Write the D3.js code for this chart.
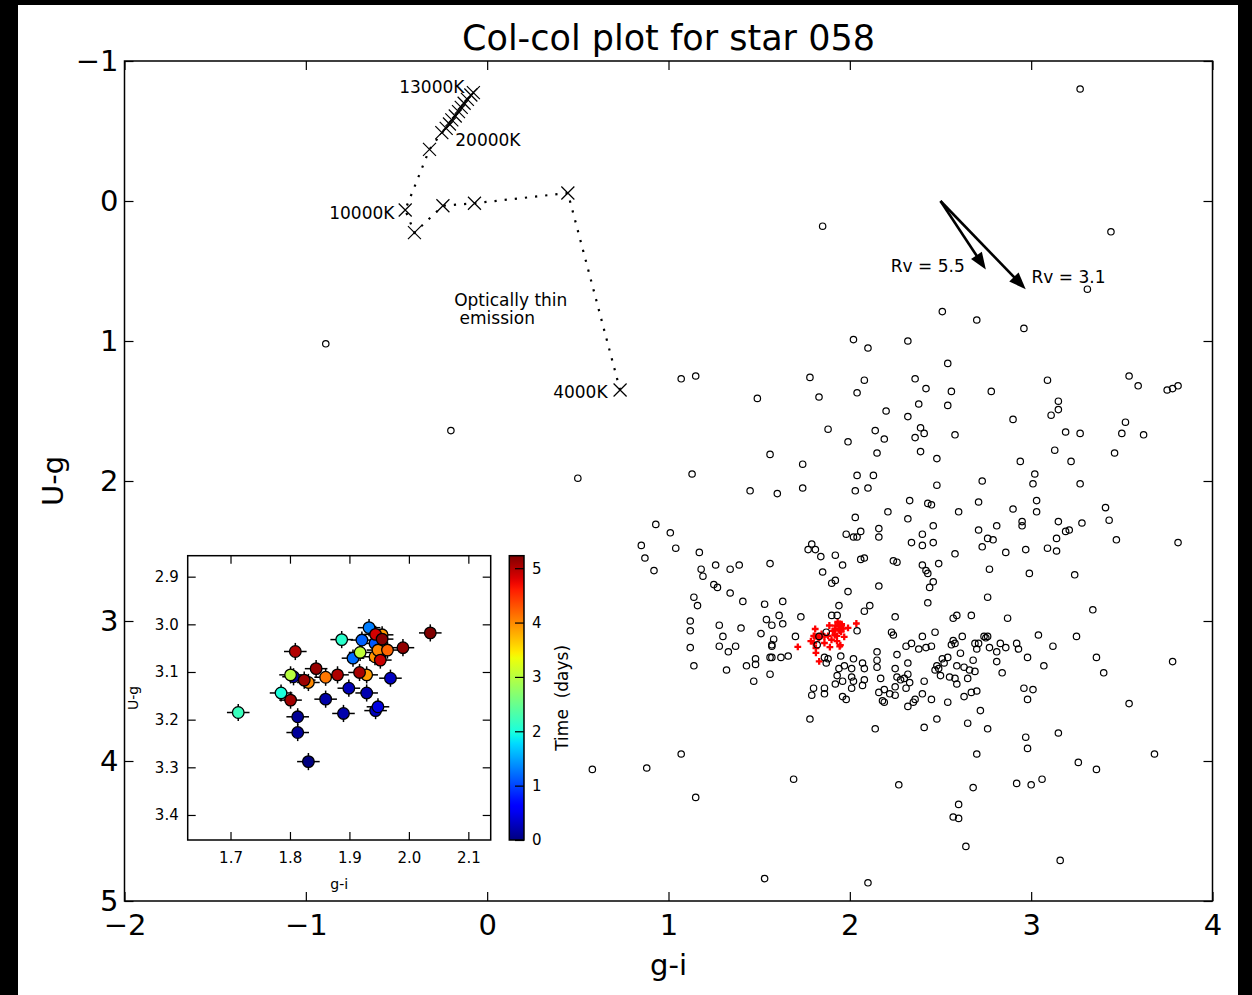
<!DOCTYPE html>
<html>
<head>
<meta charset="utf-8">
<script src="https://cdn.jsdelivr.net/npm/d3@7"></script>
<style>
  html, body { margin: 0; padding: 0; background: #000; }
  svg { display: block; }
</style>
</head>
<body>
<svg id="chart" width="1252" height="995"></svg>
<script>
// ---------- data ----------
// field stars: [g-i, U-g]
const fieldStars = [
  [3.27,-0.80],[1.85,0.18],[3.44,0.22],[3.31,0.63],[2.51,0.79],[-0.89,1.02],[-0.20,1.64],[0.50,1.98],[0.58,4.06],[2.70,0.85],[2.96,0.91],
  [2.02,0.99],[2.10,1.05],[2.32,1.00],[1.07,1.27],[1.15,1.25],[1.78,1.26],[2.08,1.28],[1.49,1.41],[1.83,1.40],[2.04,1.37],[2.20,1.50],[2.32,1.54],
  [1.88,1.63],[2.14,1.64],[2.19,1.70],[1.99,1.72],[2.15,1.80],[1.56,1.81],[1.74,1.88],[1.13,1.95],[2.04,1.96],[2.13,1.96],[1.45,2.07],[1.60,2.09],
  [1.74,2.05],[2.03,2.07],[2.10,2.05],[2.33,2.14],[2.21,2.22],[2.03,2.26],[2.32,2.27],[0.93,2.31],[1.01,2.37],[1.98,2.38],[2.02,2.40],[2.04,2.40],
  [2.06,2.36],[2.16,2.34],[2.16,2.40],[0.85,2.46],[1.04,2.48],[1.17,2.51],[0.87,2.55],[1.79,2.45],[1.77,2.49],[1.81,2.49],[1.84,2.54],[1.92,2.53],
  [2.34,2.44],[0.92,2.64],[1.18,2.63],[1.19,2.68],[1.26,2.60],[1.34,2.63],[1.39,2.60],[1.56,2.59],[1.96,2.60],[2.06,2.56],[2.08,2.55],[2.24,2.57],
  [2.26,2.58],[1.85,2.65],
  [2.54,1.16],[2.36,1.27],[2.42,1.34],[2.56,1.36],[2.78,1.36],[3.09,1.28],[3.54,1.25],[3.59,1.32],[3.75,1.35],[3.78,1.34],[3.81,1.32],[2.38,1.45],
  [2.54,1.46],[2.90,1.56],[3.15,1.43],[3.15,1.49],[3.11,1.53],[2.39,1.62],[2.41,1.66],[2.36,1.69],[2.58,1.67],[3.19,1.65],[3.27,1.66],[3.52,1.58],
  [3.50,1.66],[3.62,1.67],[2.39,1.79],[2.48,1.84],[2.94,1.86],[3.13,1.78],[3.22,1.86],[3.46,1.80],[3.02,1.95],[3.01,2.02],[3.27,2.02],[2.48,2.03],
  [2.73,2.00],[2.43,2.16],[2.45,2.17],[2.60,2.22],[2.71,2.15],[2.90,2.20],[3.03,2.14],[3.03,2.22],[3.41,2.19],[3.43,2.28],[2.46,2.32],[2.40,2.38],
  [2.40,2.46],[2.46,2.44],[2.58,2.52],[2.49,2.59],[2.71,2.35],[2.81,2.32],[2.76,2.41],[2.79,2.42],[2.73,2.47],[2.86,2.51],[2.95,2.29],[2.95,2.32],
  [2.97,2.49],[3.15,2.29],[3.14,2.41],[3.19,2.36],[3.21,2.35],[3.28,2.30],[3.09,2.48],[3.14,2.50],[3.47,2.42],[3.81,2.44],[2.77,2.63],[2.99,2.66],
  [3.24,2.67],[2.40,2.60],[2.42,2.64],[2.43,2.66],
  [1.25,2.74],[1.27,2.76],[1.34,2.80],[1.14,2.83],[1.16,2.89],[1.41,2.86],[1.53,2.88],[1.63,2.86],[1.90,2.73],[1.92,2.71],[1.99,2.79],[2.16,2.75],
  [1.94,2.89],[2.11,2.89],[2.08,2.93],[2.25,2.97],[1.73,2.97],[1.61,2.96],[1.54,2.99],[1.57,3.03],[1.63,3.02],[1.90,2.96],[1.93,2.96],[1.12,3.00],
  [1.12,3.07],[1.28,3.03],[1.40,3.05],[1.30,3.11],[1.51,3.09],[1.58,3.13],[1.57,3.17],[1.57,3.18],[1.70,3.11],[2.04,3.07],[2.23,3.08],[2.24,3.10],
  [1.83,3.11],[1.87,3.08],[1.82,3.17],[1.12,3.19],[1.28,3.18],[1.33,3.22],[1.37,3.18],[1.48,3.27],[1.48,3.31],[1.43,3.32],[1.56,3.26],[1.57,3.26],
  [1.62,3.26],[1.66,3.25],[1.14,3.32],[1.32,3.35],[1.56,3.38],[1.47,3.43],[1.86,3.26],[1.88,3.27],[1.87,3.30],[1.95,3.25],[2.02,3.27],[2.07,3.30],
  [2.15,3.22],[2.15,3.28],[2.26,3.24],[2.15,3.33],[2.25,3.34],[1.94,3.34],[1.97,3.32],[2.01,3.34],[2.08,3.34],[1.93,3.39],[2.01,3.40],[2.08,3.42],
  [2.17,3.41],[1.92,3.45],[1.96,3.43],[2.02,3.43],[2.07,3.46],[2.01,3.48],[2.26,3.40],[2.25,3.47],[2.19,3.49],[2.22,3.52],[2.16,3.51],[2.25,3.53],
  [1.80,3.48],[1.86,3.48],[1.79,3.53],[1.86,3.52],[1.96,3.54],[1.98,3.56],[2.18,3.57],[2.19,3.58],[1.78,3.70],[2.14,3.77],[1.07,3.95],[0.88,4.05],
  [1.69,4.13],[2.27,4.17],[1.15,4.26],[1.53,4.84],[2.10,4.87],
  [2.46,2.72],[2.44,2.76],[2.43,2.87],[2.76,2.83],[3.34,2.92],[2.57,2.98],[2.59,2.96],[2.67,2.96],[2.87,2.98],[2.47,3.08],[2.40,3.11],[2.34,3.16],
  [2.31,3.18],[2.38,3.20],[2.42,3.19],[2.45,3.18],[2.62,3.11],[2.57,3.14],[2.58,3.16],[2.56,3.17],[2.74,3.11],[2.75,3.12],[2.76,3.11],[2.69,3.16],
  [2.71,3.16],[2.70,3.20],[2.83,3.16],[2.77,3.19],[2.86,3.19],[2.81,3.22],[2.92,3.16],[2.93,3.20],[3.04,3.10],[3.12,3.18],[3.25,3.11],[2.98,3.26],
  [3.07,3.32],[3.36,3.26],[3.40,3.37],[3.78,3.29],[2.32,3.30],[2.61,3.23],[2.54,3.26],[2.68,3.28],[2.81,3.29],[2.84,3.37],[2.51,3.27],[2.52,3.30],
  [2.48,3.32],[2.47,3.35],[2.49,3.34],[2.59,3.32],[2.63,3.33],[2.66,3.35],[2.69,3.36],[2.50,3.39],[2.55,3.40],[2.58,3.41],[2.65,3.41],[2.59,3.45],
  [2.32,3.38],[2.28,3.42],[2.30,3.41],[2.33,3.44],[2.31,3.48],[2.41,3.43],[2.40,3.52],[2.45,3.56],[2.36,3.56],[2.35,3.58],[2.32,3.61],[2.54,3.58],
  [2.63,3.54],[2.67,3.51],[2.70,3.50],[2.72,3.64],[2.48,3.70],[2.41,3.76],[2.65,3.73],[2.76,3.77],[2.96,3.48],[3.01,3.49],[2.98,3.56],[3.15,3.80],
  [2.97,3.83],[2.98,3.91],[2.70,3.95],[3.26,4.01],[3.36,4.06],[3.54,3.59],[3.68,3.95],[2.92,4.16],[3.00,4.17],[3.06,4.13],[2.68,4.19],[2.60,4.31],
  [2.57,4.40],[2.60,4.41],[2.64,4.61],[3.16,4.71]
];

// star 058 epochs (chronological)
const starGi = [1.831,1.813,1.813,1.806,1.860,1.890,1.929,1.899,1.944,1.969,1.948,
                1.943,1.921,1.906,1.933,1.785,1.887,1.713,1.801,1.918,
                1.929,1.955,1.943,1.831,1.948,1.860,1.964,
                1.944,1.952,1.809,1.880,1.917,1.801,1.824,1.844,1.990,1.955,2.036];
const starUg = [3.288,3.194,3.227,3.110,3.157,3.187,3.144,3.134,3.181,3.113,3.173,
                3.040,3.033,3.071,3.007,3.144,3.032,3.185,3.106,3.059,
                3.106,3.022,3.068,3.122,3.054,3.111,3.054,
                3.021,3.075,3.057,3.106,3.101,3.159,3.117,3.093,3.049,3.031,3.018];
const starTime = [0.00,0.10,0.12,0.15,0.18,0.20,0.22,0.26,0.28,0.30,0.45,
                  1.10,1.15,1.20,1.30,2.00,2.10,2.20,3.00,3.05,
                  3.90,3.92,3.95,4.00,4.02,4.10,4.20,
                  4.85,4.90,5.00,5.02,5.05,5.08,5.10,5.12,5.15,5.20,5.23];
const starGiErr = [0.019,0.019,0.019,0.019,0.019,0.019,0.019,0.019,0.019,0.019,0.019,
                   0.019,0.019,0.019,0.019,0.019,0.019,0.019,0.019,0.019,
                   0.019,0.019,0.019,0.019,0.019,0.019,0.019,
                   0.019,0.019,0.019,0.019,0.019,0.019,0.019,0.019,0.019,0.019,0.019];
const starUgErr = [0.018,0.018,0.018,0.018,0.018,0.018,0.018,0.018,0.018,0.018,0.018,
                   0.018,0.018,0.018,0.018,0.018,0.018,0.018,0.018,0.018,
                   0.018,0.018,0.018,0.018,0.018,0.018,0.018,
                   0.018,0.018,0.018,0.018,0.018,0.018,0.018,0.018,0.018,0.018,0.018];

// optically thin emission model track
const trackGi = [0.733,0.445,-0.070,-0.244,-0.401,-0.452,-0.318,-0.250,-0.226,-0.208,-0.195,-0.176,-0.158,-0.143,-0.127,-0.109,-0.090,-0.076];
const trackUg = [1.350,-0.057,0.016,0.034,0.226,0.064,-0.369,-0.488,-0.519,-0.550,-0.579,-0.607,-0.638,-0.669,-0.698,-0.726,-0.757,-0.774];
const tempLabels = ["13000K","20000K","10000K","4000K"];
const tempLabelGi = [-0.485,-0.176,-0.871,0.364];
const tempLabelUg = [-0.812,-0.436,0.088,1.362];
const noteLines = ["Optically thin"," emission"];
const noteGi = -0.182;
const noteUg = [0.707,0.838];

// reddening vectors
const rvLabels = ["Rv = 5.5","Rv = 3.1"];
const rvStart = [2.50,0.00];
const rvEndGi = [2.75,2.97];
const rvEndUg = [0.49,0.63];
const rvLabelGi = [2.226,3.002];
const rvLabelUg = [0.464,0.541];

// axes
const giTicks = [-2,-1,0,1,2,3,4];
const ugTicks = [-1,0,1,2,3,4,5];
const insetGiTicks = [1.7,1.8,1.9,2.0,2.1];
const insetUgTicks = [2.9,3.0,3.1,3.2,3.3,3.4];
const timeTicks = [0,1,2,3,4,5];
const timeMax = 5.23;

// ---------- drawing ----------
const FONT = '"DejaVu Sans", "Liberation Sans", sans-serif';
const svg = d3.select("#chart");
svg.append("rect").attr("x",18).attr("y",5).attr("width",1220).attr("height",990).attr("fill","#fff");

// jet colormap built from piecewise-linear channel scales
const jetR = d3.scaleLinear().domain([0,0.35,0.66,0.89,1]).range([0,0,1,1,0.5]).clamp(true);
const jetG = d3.scaleLinear().domain([0,0.125,0.375,0.64,0.91,1]).range([0,0,1,1,0,0]).clamp(true);
const jetB = d3.scaleLinear().domain([0,0.11,0.34,0.65,1]).range([0.5,1,1,0,0]).clamp(true);
const jet = t => d3.rgb(255*jetR(t),255*jetG(t),255*jetB(t)).formatHex();
const tNorm = d3.scaleLinear().domain([0,timeMax]).range([0,1]);

const x = d3.scaleLinear().domain([-2,4]).range([124.5,1212.5]);
const y = d3.scaleLinear().domain([-1,5]).range([61,901]);

function styleAxis(g, size){
  g.attr("font-family",FONT).attr("font-size",size);
  g.select(".domain").remove();
  g.selectAll(".tick line").attr("stroke","#000").attr("stroke-width",1.2);
  g.selectAll(".tick text").attr("fill","#000");
}

const fmtInt = d3.format("d");
styleAxis(svg.append("g").attr("transform",`translate(0,${y.range()[1]})`)
  .call(d3.axisBottom(x).tickValues(giTicks).tickFormat(fmtInt).tickSizeInner(-9).tickSizeOuter(0).tickPadding(13)), 29);
styleAxis(svg.append("g").attr("transform",`translate(0,${y.range()[0]})`)
  .call(d3.axisTop(x).tickValues(giTicks).tickFormat(()=>"").tickSizeInner(-9).tickSizeOuter(0)), 29);
styleAxis(svg.append("g").attr("transform",`translate(${x.range()[0]},0)`)
  .call(d3.axisLeft(y).tickValues(ugTicks).tickFormat(fmtInt).tickSizeInner(-9).tickSizeOuter(0).tickPadding(6)), 29);
styleAxis(svg.append("g").attr("transform",`translate(${x.range()[1]},0)`)
  .call(d3.axisRight(y).tickValues(ugTicks).tickFormat(()=>"").tickSizeInner(-9).tickSizeOuter(0)), 29);

// title and axis labels
svg.append("text").attr("x",(x.range()[0]+x.range()[1])/2).attr("y",50)
  .attr("text-anchor","middle").attr("font-family",FONT).attr("font-size",35).text("Col-col plot for star 058");
svg.append("text").attr("x",(x.range()[0]+x.range()[1])/2).attr("y",975)
  .attr("text-anchor","middle").attr("font-family",FONT).attr("font-size",29).text("g-i");
svg.append("text").attr("transform",`translate(63,${(y.range()[0]+y.range()[1])/2}) rotate(-90)`)
  .attr("text-anchor","middle").attr("font-family",FONT).attr("font-size",29).text("U-g");

// star 058 epochs in the main panel
const plus = "M-3.4,0H3.4M0,-3.4V3.4";
svg.append("g").selectAll("path").data(starGi).join("path")
  .attr("transform",(d,i)=>`translate(${x(d)},${y(starUg[i])})`)
  .attr("d",plus).attr("stroke","#ff0000").attr("stroke-width",2.3).attr("fill","none");

// field stars
svg.append("g").selectAll("circle").data(fieldStars).join("circle")
  .attr("cx",d=>x(d[0])).attr("cy",d=>y(d[1])).attr("r",3.2)
  .attr("fill","none").attr("stroke","#000").attr("stroke-width",1.2);

// model track
const track = trackGi.map((g,i)=>[g,trackUg[i]]);
svg.append("path").datum(track)
  .attr("d",d3.line().x(d=>x(d[0])).y(d=>y(d[1])))
  .attr("fill","none").attr("stroke","#000").attr("stroke-width",2.2).attr("stroke-dasharray","2.2,8");
svg.append("g").selectAll("path").data(track).join("path")
  .attr("transform",d=>`translate(${x(d[0])},${y(d[1])})`)
  .attr("d","M-6.5,-6.5L6.5,6.5M-6.5,6.5L6.5,-6.5")
  .attr("stroke","#000").attr("stroke-width",1.2).attr("fill","none");

const annot = svg.append("g").attr("font-family",FONT).attr("font-size",17);
tempLabels.forEach((t,i)=>{
  annot.append("text").attr("x",x(tempLabelGi[i])).attr("y",y(tempLabelUg[i])).attr("dy","0.36em").text(t);
});
noteLines.forEach((t,i)=>{
  annot.append("text").attr("x",x(noteGi)).attr("y",y(noteUg[i])).attr("dy","0.36em").style("white-space","pre").text(t);
});

// reddening arrows
rvLabels.forEach((lab,i)=>{
  const x0 = x(rvStart[0]), y0 = y(rvStart[1]);
  const x1 = x(rvEndGi[i]), y1 = y(rvEndUg[i]);
  const len = Math.hypot(x1-x0,y1-y0), ux=(x1-x0)/len, uy=(y1-y0)/len;
  const hl = 17, hw = 6.5;
  const bx = x1-ux*hl, by = y1-uy*hl;
  svg.append("line").attr("x1",x0).attr("y1",y0).attr("x2",bx+ux*2).attr("y2",by+uy*2)
    .attr("stroke","#000").attr("stroke-width",2.6);
  svg.append("path")
    .attr("d",`M${x1},${y1}L${bx-uy*hw},${by+ux*hw}L${bx+uy*hw},${by-ux*hw}Z`)
    .attr("fill","#000");
  annot.append("text").attr("x",x(rvLabelGi[i])).attr("y",y(rvLabelUg[i])).attr("dy","0.36em").text(lab);
});

// ---------- inset ----------
const ix = d3.scaleLinear().domain([1.628,2.1376]).range([187.7,490.7]);
const iy = d3.scaleLinear().domain([2.856,3.4525]).range([555.7,840]);
svg.append("rect").attr("x",ix.range()[0]).attr("y",iy.range()[0])
  .attr("width",ix.range()[1]-ix.range()[0]).attr("height",iy.range()[1]-iy.range()[0]).attr("fill","#fff");

const fmt1 = d3.format(".1f");
styleAxis(svg.append("g").attr("transform",`translate(0,${iy.range()[1]})`)
  .call(d3.axisBottom(ix).tickValues(insetGiTicks).tickFormat(fmt1).tickSizeInner(-8).tickSizeOuter(0).tickPadding(12)), 15);
styleAxis(svg.append("g").attr("transform",`translate(0,${iy.range()[0]})`)
  .call(d3.axisTop(ix).tickValues(insetGiTicks).tickFormat(()=>"").tickSizeInner(-8).tickSizeOuter(0)), 15);
styleAxis(svg.append("g").attr("transform",`translate(${ix.range()[0]},0)`)
  .call(d3.axisLeft(iy).tickValues(insetUgTicks).tickFormat(fmt1).tickSizeInner(-8).tickSizeOuter(0).tickPadding(9)), 15);
styleAxis(svg.append("g").attr("transform",`translate(${ix.range()[1]},0)`)
  .call(d3.axisRight(iy).tickValues(insetUgTicks).tickFormat(()=>"").tickSizeInner(-8).tickSizeOuter(0)), 15);

const eb = svg.append("g").attr("stroke","#000").attr("stroke-width",1.5);
starGi.forEach((g,i)=>{
  eb.append("line").attr("x1",ix(g-starGiErr[i])).attr("x2",ix(g+starGiErr[i])).attr("y1",iy(starUg[i])).attr("y2",iy(starUg[i]));
  eb.append("line").attr("x1",ix(g)).attr("x2",ix(g)).attr("y1",iy(starUg[i]-starUgErr[i])).attr("y2",iy(starUg[i]+starUgErr[i]));
});
svg.append("g").selectAll("circle").data(starGi).join("circle")
  .attr("cx",d=>ix(d)).attr("cy",(d,i)=>iy(starUg[i])).attr("r",5.8)
  .attr("fill",(d,i)=>jet(tNorm(starTime[i]))).attr("stroke","#000").attr("stroke-width",1.3);

svg.append("rect").attr("x",ix.range()[0]).attr("y",iy.range()[0])
  .attr("width",ix.range()[1]-ix.range()[0]).attr("height",iy.range()[1]-iy.range()[0])
  .attr("fill","none").attr("stroke","#000").attr("stroke-width",1.5);

svg.append("text").attr("x",(ix.range()[0]+ix.range()[1])/2).attr("y",889)
  .attr("text-anchor","middle").attr("font-family",FONT).attr("font-size",14).text("g-i");
svg.append("text").attr("transform",`translate(138,${(iy.range()[0]+iy.range()[1])/2}) rotate(-90)`)
  .attr("text-anchor","middle").attr("font-family",FONT).attr("font-size",14).text("U-g");

// colorbar
const cbX0 = 509.3, cbX1 = 524;
const cy = d3.scaleLinear().domain([0,timeMax]).range([840,555.7]);
const grad = svg.append("defs").append("linearGradient").attr("id","jetGrad")
  .attr("x1",0).attr("y1",1).attr("x2",0).attr("y2",0);
grad.selectAll("stop").data(d3.range(0,1.0001,0.02)).join("stop")
  .attr("offset",d=>d).attr("stop-color",d=>jet(d));
svg.append("rect").attr("x",cbX0).attr("y",cy.range()[1]).attr("width",cbX1-cbX0)
  .attr("height",cy.range()[0]-cy.range()[1]).attr("fill","url(#jetGrad)");
styleAxis(svg.append("g").attr("transform",`translate(${cbX1},0)`)
  .call(d3.axisRight(cy).tickValues(timeTicks).tickFormat(fmtInt).tickSizeInner(-9).tickSizeOuter(0).tickPadding(8)), 15);
svg.append("rect").attr("x",cbX0).attr("y",cy.range()[1]).attr("width",cbX1-cbX0)
  .attr("height",cy.range()[0]-cy.range()[1]).attr("fill","none").attr("stroke","#000").attr("stroke-width",1.5);
svg.append("text").attr("transform",`translate(568,${(cy.range()[0]+cy.range()[1])/2}) rotate(-90)`)
  .attr("text-anchor","middle").attr("font-family",FONT).attr("font-size",17)
  .style("white-space","pre").text("Time  (days)");

// main frame on top
svg.append("rect").attr("x",x.range()[0]).attr("y",y.range()[0])
  .attr("width",x.range()[1]-x.range()[0]).attr("height",y.range()[1]-y.range()[0])
  .attr("fill","none").attr("stroke","#000").attr("stroke-width",1.5);
</script>
</body>
</html>
